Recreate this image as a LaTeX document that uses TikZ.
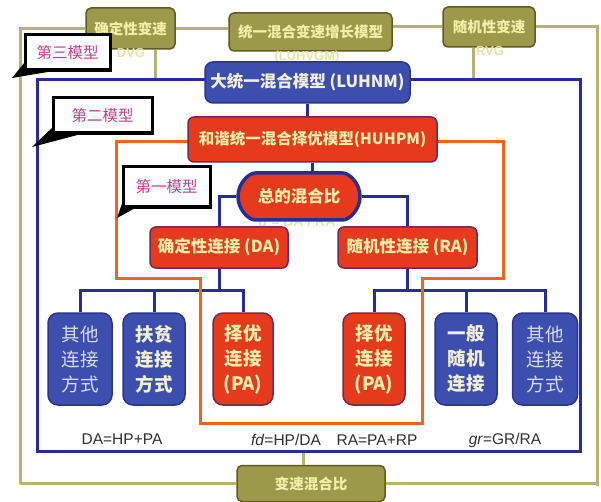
\documentclass[tikz,border=0pt]{standalone}
\usepackage{fontspec}
\setmainfont{Liberation Sans}
\newfontfamily\cjk{Noto Sans CJK SC}
\usetikzlibrary{shadows,shapes.misc}
\definecolor{olivefill}{HTML}{9C9A4A}
\definecolor{olivedark}{HTML}{5E5C22}
\definecolor{oliveline}{HTML}{B8B274}
\definecolor{paleyel}{HTML}{F4EEA8}
\definecolor{paletxt}{HTML}{E6E4A8}
\definecolor{bluefill}{HTML}{3C4FAE}
\definecolor{bluedark}{HTML}{2A3490}
\definecolor{blueline}{HTML}{262E96}
\definecolor{creamtxt}{HTML}{F2F0D8}
\definecolor{lighttxt}{HTML}{D8DCF0}
\definecolor{redfill}{HTML}{E63A1C}
\definecolor{redborder}{HTML}{6E2A60}
\definecolor{orangeline}{HTML}{F0641E}
\definecolor{magtxt}{HTML}{C0408A}
\definecolor{formtxt}{HTML}{303030}
\tikzset{
  olivebox/.style={draw=olivedark, line width=1.5pt, fill=olivefill, rounded corners=5pt,
    text=paleyel, font=\cjk\bfseries\fontsize{14.5pt}{16pt}\selectfont, inner sep=0pt},
  bluebox/.style={draw=bluedark, line width=1.5pt, fill=bluefill, rounded corners=8pt,
    text=creamtxt, font=\cjk\bfseries\fontsize{16.5pt}{18pt}\selectfont, inner sep=0pt},
  redbox/.style={draw=redborder, line width=1.5pt, fill=redfill, rounded corners=6pt,
    text=paleyel, font=\cjk\bfseries\fontsize{16.5pt}{18pt}\selectfont, inner sep=0pt},
  tallbox/.style={minimum height=92pt, rounded corners=10pt, align=center,
    font=\cjk\bfseries\fontsize{18.5pt}{25pt}\selectfont},
  lighttall/.style={tallbox, text=lighttxt, font=\cjk\fontsize{18.5pt}{25pt}\selectfont},
  callout/.style={draw=black, line width=3pt, fill=white, text=magtxt,
    font=\cjk\fontsize{15.5pt}{17pt}\selectfont, inner sep=0pt,
    drop shadow={shadow xshift=2pt, shadow yshift=-2pt, fill=black, opacity=1}},
  olivelink/.style={draw=oliveline, line width=3pt},
  bluelink/.style={draw=blueline, line width=3pt},
  orangelink/.style={draw=orangeline, line width=3pt, line join=miter},
  ghost/.style={text=paletxt, font=\bfseries\fontsize{13pt}{15pt}\selectfont, inner sep=0pt},
  formula/.style={text=formtxt, font=\fontsize{15.5pt}{17pt}\selectfont, inner sep=0pt},
}
\begin{document}
\begin{tikzpicture}[x=1pt,y=-1pt]
\useasboundingbox[fill=white] (0,0) rectangle (601,502);

% ---- third model frame (olive) ----
\node[olivebox, minimum width=89pt, minimum height=41pt] (dvg) at (130.5,28.5) {确定性变速};
\node[olivebox, minimum width=163pt, minimum height=38pt] (unif) at (310.5,32) {统一混合变速增长模型};
\node[olivebox, minimum width=92pt, minimum height=40pt] (rvg) at (489,27) {随机性变速};
\node[olivebox, minimum width=148pt, minimum height=36pt] (spd) at (311,483.5) {变速混合比};
\node[ghost] (dvgt) at (131,53) {DVG};
\node[ghost] (rvgt) at (490,51) {RVG};
\node[ghost] (unift) at (307,57) {(LUHVGM)};

\coordinate (fl) at (20,484);
\coordinate (fr) at (597,486);
\coordinate (dvgdrop) at (155,80);
\coordinate (rvgdrop) at (473,80);
\coordinate (bf) at (303,451);
\draw[olivelink] (dvg.west) -| (fl) |- (spd.west);
\draw[olivelink] (rvg.east) -| (fr) |- (spd.east);
\draw[olivelink] (dvg.east) -- (unif.west |- dvg.east);
\draw[olivelink] (unif.east |- rvg.west) -- (rvg.west);
\draw[olivelink] (dvgdrop |- dvg.south) -- (dvgdrop);
\draw[olivelink] (rvgdrop |- rvg.south) -- (rvgdrop);
\draw[olivelink] (bf) -- (bf |- spd.north);

% ---- blue frame ----
\draw[bluelink] (37,80) rectangle (580,451);

% ---- nodes ----
\node[bluebox, minimum width=205pt, minimum height=41pt] (luhnm) at (307.5,82.5) {大统一混合模型 (LUHNM)};

\node[redbox, minimum width=138pt, minimum height=41pt] (da) at (219,247.5) {确定性连接 (DA)};
\node[redbox, minimum width=139pt, minimum height=41pt] (ra) at (407.5,247.5) {随机性连接 (RA)};

\node[bluebox, lighttall, minimum width=64pt] (b1) at (80,359) {其他\\连接\\方式};
\node[bluebox, tallbox, minimum width=62pt] (b2) at (154,359) {扶贫\\连接\\方式};
\node[redbox, tallbox, minimum width=60pt] (b3) at (243,359) {择优\\连接\\(PA)};
\node[redbox, tallbox, minimum width=62pt] (b4) at (374,359) {择优\\连接\\(PA)};
\node[bluebox, tallbox, minimum width=62pt] (b5) at (466,359) {一般\\随机\\连接};
\node[bluebox, lighttall, minimum width=65pt] (b6) at (545,359) {其他\\连接\\方式};

% ---- blue connectors ----
\draw[bluelink] (da.south) -- ++(0,22) coordinate (dj);
\draw[bluelink] (b1.north) |- (dj) -| (b3.north);
\draw[bluelink] (b2.north) -- (b2.north |- dj);
\draw[bluelink] (ra.south) -- ++(0,22) coordinate (rj);
\draw[bluelink] (b4.north) |- (rj) -| (b6.north);
\draw[bluelink] (b5.north) -- (b5.north |- rj);

% ---- orange frame ----
\draw[orangelink] (116,142) -- (503,142) -- (503,278) -- (422,278) -- (422,423)
  -- (200,423) -- (200,278) -- (116,278) -- cycle;

\node[redbox, minimum width=249pt, minimum height=45pt, font=\cjk\bfseries\fontsize{15.5pt}{18pt}\selectfont] (huhpm) at (312.5,139.5) {和谐统一混合择优模型(HUHPM)};
\draw[bluelink] (luhnm.south) -- (luhnm.south |- huhpm.north);

\node[ghost, font=\bfseries\fontsize{14pt}{16pt}\selectfont] (dr) at (297,222) {\textit{d} = DA / RA};
\node[redbox, rounded rectangle, draw=blueline, line width=3.5pt, minimum width=122pt, minimum height=47pt] (st) at (299,196.5) {总的混合比};
\draw[bluelink] (huhpm.south) -- (huhpm.south |- st.north);
\draw[bluelink] (st.west) -| (da.north);
\draw[bluelink] (st.east) -| (ra.north);

% ---- formulas ----
\node[formula] (f1) at (122,439) {DA=HP+PA};
\node[formula] (f2) at (286,440) {\textit{fd}=HP/DA};
\node[formula] (f3) at (377,440) {RA=PA+RP};
\node[formula] (f4) at (505,440) {\textit{gr}=GR/RA};

% ---- callouts ----
\fill[black] (25,62) -- (12,78) -- (60,70) -- cycle;
\node[callout, minimum width=85pt, minimum height=35pt] (c3) at (67.5,52.5) {第三模型};
\fill[black] (54,126) -- (32,147) -- (85,133) -- cycle;
\node[callout, minimum width=99pt, minimum height=35pt] (c2) at (102.5,115.5) {第二模型};
\fill[black] (125,195) -- (117,218) -- (137,207) -- cycle;
\node[callout, minimum width=87pt, minimum height=40pt] (c1) at (166.5,187) {第一模型};
\end{tikzpicture}
\end{document}
